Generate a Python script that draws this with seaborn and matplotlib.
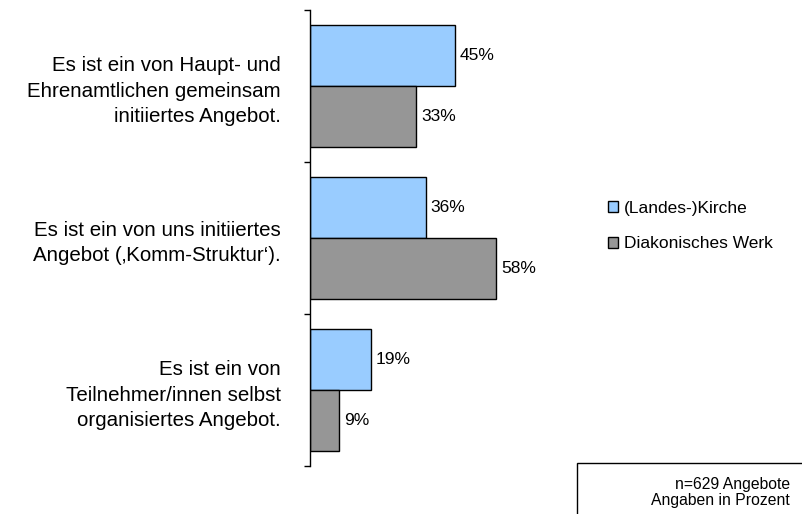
import matplotlib
matplotlib.use("Agg")
import matplotlib.pyplot as plt
import matplotlib.patches as mpatches
import seaborn as sns
import pandas as pd

sns.set_style("white")
plt.rcParams["font.family"] = ["Liberation Sans", "DejaVu Sans"]
plt.rcParams["text.color"] = "black"
plt.rcParams["ytick.labelcolor"] = "black"

categories = [
    "Es ist ein von Haupt- und\nEhrenamtlichen gemeinsam\ninitiiertes Angebot.",
    "Es ist ein von uns initiiertes\nAngebot (‚Komm-Struktur‘).",
    "Es ist ein von\nTeilnehmer/innen selbst\norganisiertes Angebot.",
]
series = ["(Landes-)Kirche", "Diakonisches Werk"]
kirche = [45, 36, 19]
diakonie = [33, 58, 9]
colors = ["#99CCFF", "#969696"]
note_lines = ["n=629 Angebote", "Angaben in Prozent"]

df = pd.DataFrame({
    "Kategorie": categories * 2,
    "Gruppe": [series[0]] * 3 + [series[1]] * 3,
    "Prozent": kirche + diakonie,
})

fig = plt.figure(figsize=(8.02, 5.14), dpi=100)
ax = fig.add_axes([310 / 802, 1 - 466 / 514, 257 / 802, 456 / 514])

sns.barplot(data=df, y="Kategorie", x="Prozent", hue="Gruppe",
            palette=colors, orient="h", width=0.8, ax=ax,
            edgecolor="black", linewidth=1.0, saturation=1, legend=False)

for cont in ax.containers:
    ax.bar_label(cont, fmt="{:.0f}%", padding=3.5, fontsize=12.5, color="black")

ax.set_xlim(0, 80)
ax.set_ylim(2.5, -0.5)
ax.set_xlabel("")
ax.set_ylabel("")
ax.set_xticks([])

for s in ["top", "right", "bottom"]:
    ax.spines[s].set_visible(False)
ax.spines["left"].set_color("black")
ax.spines["left"].set_linewidth(1.0)

ax.set_yticks([0, 1, 2])
ax.set_yticklabels(categories, fontsize=14.8, ha="right", multialignment="right",
                   linespacing=1.42, color="black")
ax.set_yticks([-0.5, 0.5, 1.5, 2.5], minor=True)
ax.tick_params(axis="y", which="major", length=0, pad=21)
ax.tick_params(axis="y", which="minor", length=4, width=1, direction="out",
               color="black", left=True)

handles = [
    mpatches.Patch(facecolor=colors[0], edgecolor="black", linewidth=1),
    mpatches.Patch(facecolor=colors[1], edgecolor="black", linewidth=1),
]
fig.legend(handles, series, loc="center left",
           bbox_to_anchor=(592 / 802, 1 - 226 / 514), frameon=False,
           fontsize=12.5, handlelength=0.6, handleheight=0.6,
           handletextpad=0.35, labelspacing=1.2)

box = mpatches.Rectangle((577 / 802, -0.01), 0.3, (514 - 463) / 514 + 0.01,
                         transform=fig.transFigure, facecolor="white",
                         edgecolor="black", linewidth=1)
fig.add_artist(box)
fig.text(790 / 802, 1 - 485 / 514, note_lines[0], ha="right", va="center",
         fontsize=11.3)
fig.text(790 / 802, 1 - 501 / 514, note_lines[1], ha="right", va="center",
         fontsize=11.3)

fig.savefig("out.png", dpi=100)
